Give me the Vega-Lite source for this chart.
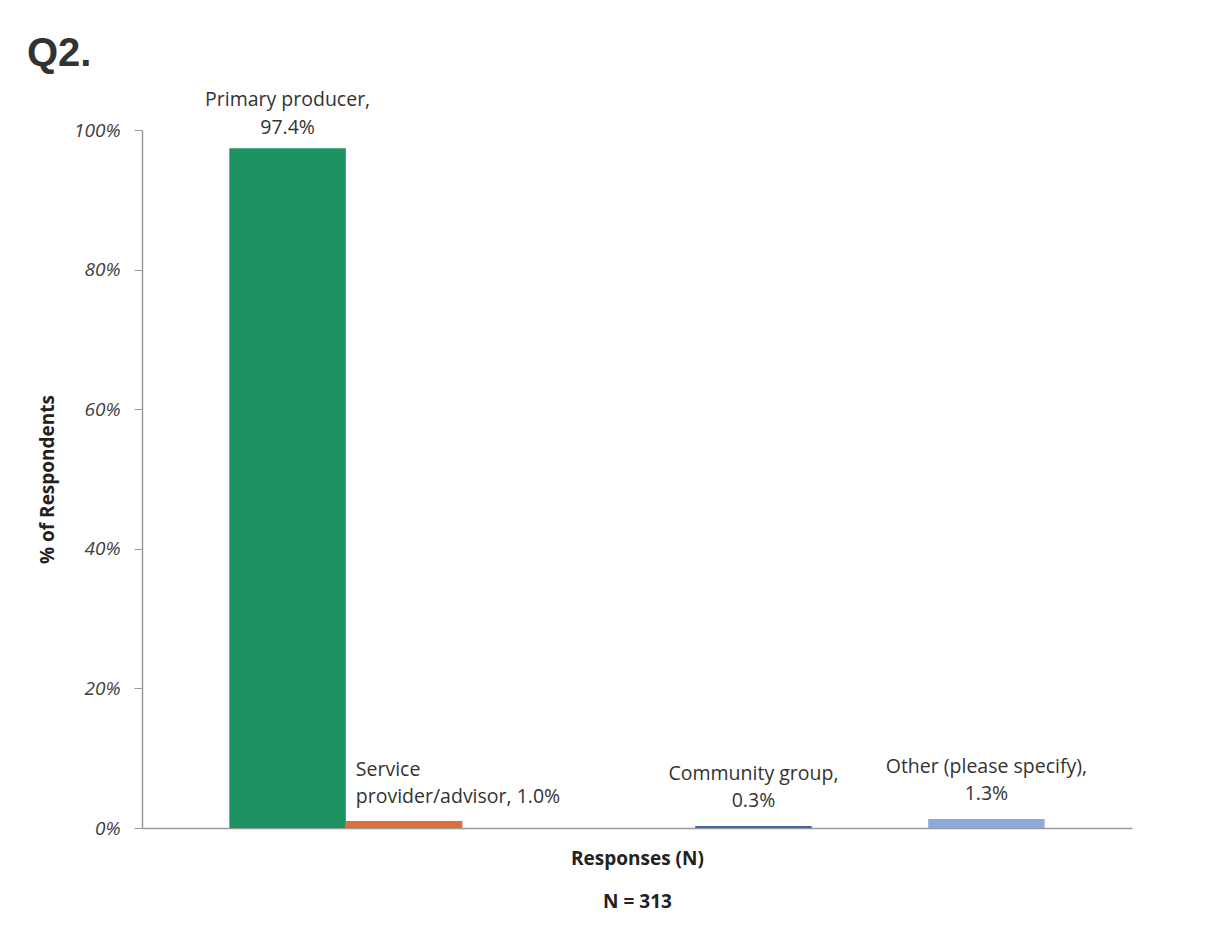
{
  "$schema": "https://vega.github.io/schema/vega-lite/v6.json",
  "autosize": {"type": "none"},
  "width": 990,
  "height": 698,
  "padding": {"left": 142, "top": 130, "right": 79, "bottom": 108},
  "background": "white",
  "title": {
    "text": "Q2.",
    "anchor": "start",
    "frame": "group",
    "font": "Liberation Sans",
    "fontSize": 40,
    "fontWeight": "bold",
    "color": "#333333",
    "baseline": "alphabetic",
    "dx": -115,
    "dy": 76,
    "offset": 60
  },
  "config": {
    "view": {"stroke": null},
    "font": "Open Sans"
  },
  "data": {
    "values": [
      {"category": "Primary producer", "pct": 0.974, "label": "Primary producer,\n97.4%"},
      {"category": "Service provider/advisor", "pct": 0.010, "label": "Service\nprovider/advisor, 1.0%"},
      {"category": "Community group", "pct": 0.003, "label": "Community group,\n0.3%"},
      {"category": "Other (please specify)", "pct": 0.013, "label": "Other (please specify),\n1.3%"}
    ]
  },
  "encoding": {
    "x": {
      "field": "category",
      "type": "nominal",
      "scale": {
        "domain": ["Primary producer", "Service provider/advisor", " ", "  ", "Community group", "   ", "Other (please specify)"],
        "paddingInner": 0,
        "paddingOuter": 0.75
      },
      "axis": {
        "title": ["Responses (N)", "N = 313"],
        "titleFont": "Open Sans",
        "titleFontSize": 19,
        "titleFontWeight": "bold",
        "titleColor": "#222222",
        "titleLineHeight": 43,
        "titleBaseline": "top",
        "titleY": 21,
        "labels": false,
        "ticks": false,
        "domainColor": "#9a9a9a",
        "domainWidth": 1.5
      }
    },
    "y": {
      "field": "pct",
      "type": "quantitative",
      "scale": {"domain": [0, 1]},
      "axis": {
        "title": "% of Respondents",
        "titleFont": "Open Sans",
        "titleFontSize": 19,
        "titleFontWeight": "bold",
        "titleColor": "#222222",
        "titleAngle": -90,
        "titleX": -95,
        "titleY": 349,
        "titleAlign": "center",
        "titleBaseline": "middle",
        "values": [0, 0.2, 0.4, 0.6, 0.8, 1],
        "format": ".0%",
        "grid": false,
        "labelFont": "Open Sans",
        "labelFontSize": 19,
        "labelFontStyle": "italic",
        "labelColor": "#404040",
        "labelPadding": 14,
        "tickSize": 8,
        "tickColor": "#9a9a9a",
        "domainColor": "#9a9a9a",
        "domainWidth": 1.5
      }
    }
  },
  "layer": [
    {
      "mark": {"type": "bar"},
      "encoding": {
        "color": {
          "field": "category",
          "type": "nominal",
          "scale": {
            "domain": ["Primary producer", "Service provider/advisor", "Community group", "Other (please specify)"],
            "range": ["#1c9161", "#dc6f3c", "#4463a8", "#8eaadc"]
          },
          "legend": null
        }
      }
    },
    {
      "transform": [{"filter": "datum.category === 'Primary producer'"}],
      "mark": {"type": "text", "baseline": "bottom", "align": "center", "dy": -38, "fontSize": 19.5, "lineHeight": 28, "color": "#333333", "lineBreak": "\n"},
      "encoding": {"text": {"field": "label"}}
    },
    {
      "transform": [{"filter": "datum.category === 'Community group' || datum.category === 'Other (please specify)'"}],
      "mark": {"type": "text", "baseline": "bottom", "align": "center", "dy": -42, "fontSize": 19.5, "lineHeight": 27, "color": "#333333", "lineBreak": "\n"},
      "encoding": {"text": {"field": "label"}}
    },
    {
      "transform": [{"filter": "datum.category === 'Service provider/advisor'"}],
      "mark": {"type": "text", "baseline": "bottom", "align": "left", "dx": 10, "dy": -41, "fontSize": 19.5, "lineHeight": 27, "color": "#333333", "lineBreak": "\n"},
      "encoding": {
        "x": {"field": "category", "type": "nominal", "bandPosition": 0},
        "text": {"field": "label"}
      }
    }
  ]
}
